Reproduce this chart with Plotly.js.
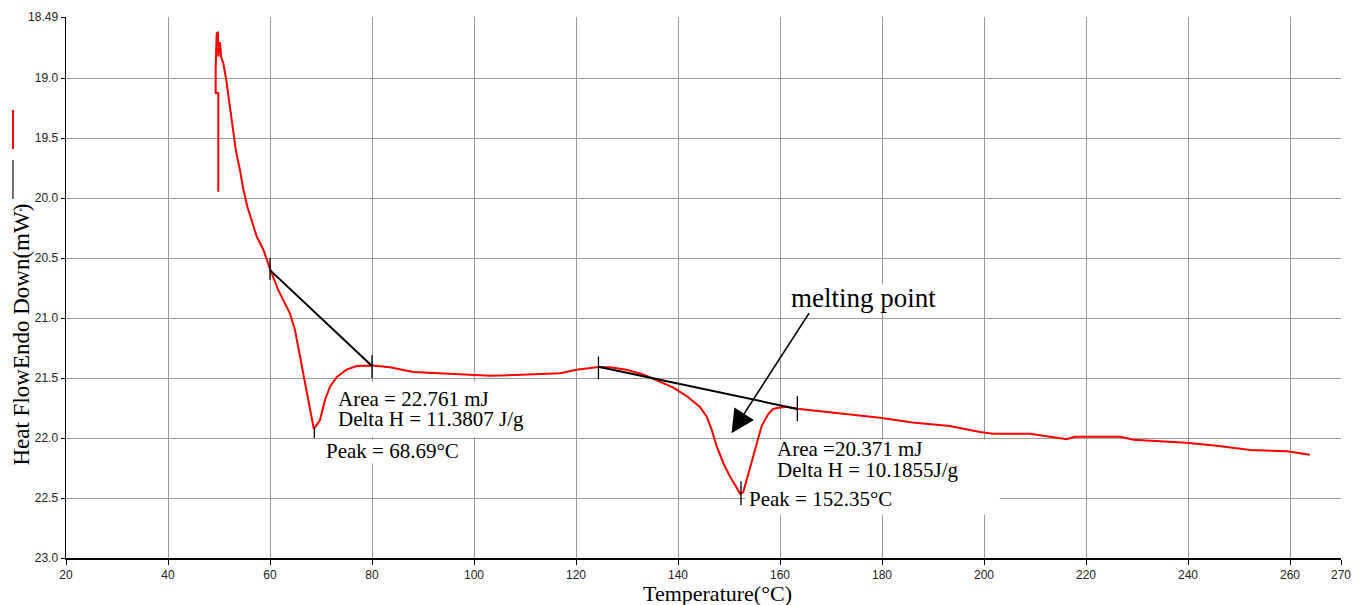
<!DOCTYPE html>
<html>
<head>
<meta charset="utf-8">
<script src="https://cdn.plot.ly/plotly-3.0.1.min.js"></script>
<style>html,body{margin:0;padding:0;background:#fff;}#chart{width:1362px;height:605px;}</style>
</head>
<body>
<div id="chart"></div>
<script>
// DSC heat-flow curve (red)
const temperature = [49.86,49.86,49.35,49.35,49.55,49.8,49.86,50.2,50.4,50.85,51.37,52.0,52.7,53.3,54.1,54.8,55.55,56.1,57.4,58.7,60.0,61.6,62.8,63.9,64.9,65.9,66.9,67.8,68.6,69.8,70.8,71.8,73.1,75.0,77.0,80.1,83.5,88.1,93.3,99.9,103.1,108.0,113.0,116.9,120.1,124.0,126.7,129.9,133.2,136.5,139.1,141.7,144.3,145.6,146.6,147.6,148.9,150.2,151.3,152.2,152.8,153.4,154.1,155.4,156.4,157.7,158.6,159.4,161.3,163.4,169.1,175.7,179.6,186.0,193.3,199.2,201.8,209.0,212.9,216.2,217.8,226.7,229.3,235.8,239.7,245.6,252.2,259.4,263.9];
const heatFlow = [19.946,19.123,19.123,18.904,18.626,18.62,18.82,18.70,18.82,18.876,19.0,19.21,19.40,19.60,19.765,19.93,20.07,20.15,20.32,20.43,20.59,20.765,20.86,20.96,21.10,21.32,21.54,21.77,21.926,21.85,21.68,21.57,21.49,21.43,21.40,21.395,21.41,21.45,21.46,21.47,21.48,21.475,21.47,21.46,21.43,21.41,21.41,21.43,21.47,21.53,21.58,21.65,21.74,21.82,21.93,22.07,22.21,22.32,22.40,22.465,22.45,22.36,22.24,22.04,21.90,21.80,21.76,21.75,21.74,21.755,21.78,21.815,21.83,21.87,21.90,21.95,21.965,21.965,21.99,22.01,21.99,21.99,22.015,22.03,22.04,22.065,22.10,22.11,22.14];

// Integration baselines (black)
const baseline1T = [60.0, 80.0];
const baseline1H = [20.60, 21.40];
const baseline2T = [124.4, 163.4];
const baseline2H = [21.406, 21.757];

// Vertical marker ticks (limits and peaks)
const markT  = [60.0, 80.0, 68.69, 124.4, 163.4, 152.35];
const markLo = [20.50, 21.31, 21.91, 21.32, 21.65, 22.36];
const markHi = [20.68, 21.50, 22.00, 21.51, 21.86, 22.56];

// Axis ticks
const xTicks = [20,40,60,80,100,120,140,160,180,200,220,240,260,270];
const yTicks = [18.49,19.0,19.5,20.0,20.5,21.0,21.5,22.0,22.5,23.0];
const yTickText = ['18.49','19.0','19.5','20.0','20.5','21.0','21.5','22.0','22.5','23.0'];

// Annotation texts
const peak1Text = ['Area = 22.761 mJ', 'Delta H = 11.3807 J/g', 'Peak = 68.69°C'];
const peak2Text = ['Area =20.371 mJ', 'Delta H = 10.1855J/g', 'Peak = 152.35°C'];
const calloutText = 'melting point';

const markX = [], markY = [];
for (let i = 0; i < markT.length; i++) {
  markX.push(markT[i], markT[i], null);
  markY.push(markLo[i], markHi[i], null);
}

const serif = 'Liberation Serif, Times New Roman, serif';
const sans = 'Liberation Sans, Arial, sans-serif';

const traces = [
  {x: temperature, y: heatFlow, type: 'scatter', mode: 'lines', line: {color: '#ff0000', width: 2}, hoverinfo: 'skip'},
  {x: baseline1T, y: baseline1H, type: 'scatter', mode: 'lines', line: {color: '#000', width: 2}, hoverinfo: 'skip'},
  {x: baseline2T, y: baseline2H, type: 'scatter', mode: 'lines', line: {color: '#000', width: 2}, hoverinfo: 'skip'},
  {x: markX, y: markY, type: 'scatter', mode: 'lines', line: {color: '#000', width: 1.3}, connectgaps: false, hoverinfo: 'skip'}
];

function textAnn(t, x, y, size) {
  return {text: t, x: x, y: y, xref: 'x', yref: 'y', xanchor: 'left', yanchor: 'middle',
          showarrow: false, font: {family: serif, size: size, color: '#000'}};
}

const annotations = [
  textAnn(peak1Text[0], 73.0, 21.672, 21),
  textAnn(peak1Text[1], 73.0, 21.842, 21),
  textAnn(peak1Text[2], 70.6, 22.11, 21),
  textAnn(peak2Text[0], 159.0, 22.095, 21),
  textAnn(peak2Text[1], 159.0, 22.265, 21),
  textAnn(peak2Text[2], 153.5, 22.51, 21),
  textAnn(calloutText, 161.7, 20.83, 27),
  {x: 150.5, y: 21.96, ax: 165.9, ay: 20.946, xref: 'x', yref: 'y', axref: 'x', ayref: 'y',
   text: '', showarrow: true, arrowhead: 2, arrowsize: 2.9, arrowwidth: 1.6, arrowcolor: '#000', standoff: 0},
  {text: 'Heat FlowEndo Down(mW)', x: -0.0345, y: 0.413, xref: 'paper', yref: 'paper', textangle: -90,
   xanchor: 'center', yanchor: 'middle', showarrow: false, font: {family: serif, size: 23, color: '#000'}},
  {text: 'Temperature(°C)', x: 0.5106, y: -0.066, xref: 'paper', yref: 'paper',
   xanchor: 'center', yanchor: 'middle', showarrow: false, font: {family: serif, size: 22, color: '#000'}},
  {text: '▴', x: -0.035, y: 0.645, xref: 'paper', yref: 'paper', xanchor: 'center', yanchor: 'middle',
   showarrow: false, font: {family: 'DejaVu Sans, sans-serif', size: 7, color: '#777'}}
];

const shapes = [
  // white boxes behind text labels (cover the grid, stay under the curves)
  {type: 'rect', xref: 'x', yref: 'y', x0: 72.7, x1: 112.9, y0: 21.53, y1: 21.99, fillcolor: '#fff', line: {width: 0}, layer: 'between'},
  {type: 'rect', xref: 'x', yref: 'y', x0: 70.4, x1: 98.2, y0: 22.015, y1: 22.21, fillcolor: '#fff', line: {width: 0}, layer: 'between'},
  {type: 'rect', xref: 'x', yref: 'y', x0: 153.2, x1: 203.1, y0: 22.015, y1: 22.64, fillcolor: '#fff', line: {width: 0}, layer: 'between'},
  {type: 'rect', xref: 'x', yref: 'y', x0: 161.0, x1: 193.3, y0: 20.72, y1: 20.95, fillcolor: '#fff', line: {width: 0}, layer: 'between'},
  // legend-like marks on the left
  {type: 'line', xref: 'paper', yref: 'paper', x0: -0.0416, x1: -0.0416, y0: 0.828, y1: 0.756, line: {color: '#ff0000', width: 2}},
  {type: 'line', xref: 'paper', yref: 'paper', x0: -0.0416, x1: -0.0416, y0: 0.7357, y1: 0.6636, line: {color: '#444', width: 1.5}}
];

const layout = {
  width: 1362, height: 605,
  margin: {l: 66, r: 21, t: 17, b: 47, pad: 0},
  paper_bgcolor: '#fff', plot_bgcolor: '#fff',
  showlegend: false,
  xaxis: {range: [20, 270], tickvals: xTicks, ticktext: xTicks.map(String), showgrid: true, gridcolor: '#9a9a9a', gridwidth: 1,
          zeroline: false, showline: true, linecolor: '#000', linewidth: 1.5, ticks: 'outside', ticklen: 5, tickcolor: '#000',
          tickfont: {family: sans, size: 12, color: '#222'}},
  yaxis: {range: [23.0, 18.49], tickvals: yTicks, ticktext: yTickText, showgrid: true, gridcolor: '#9a9a9a', gridwidth: 1,
          zeroline: false, showline: true, linecolor: '#000', linewidth: 1.5, ticks: 'outside', ticklen: 4, tickcolor: '#000',
          tickfont: {family: sans, size: 12, color: '#222'}},
  annotations: annotations,
  shapes: shapes
};

Plotly.newPlot('chart', traces, layout, {displayModeBar: false, staticPlot: true});
</script>
</body>
</html>
